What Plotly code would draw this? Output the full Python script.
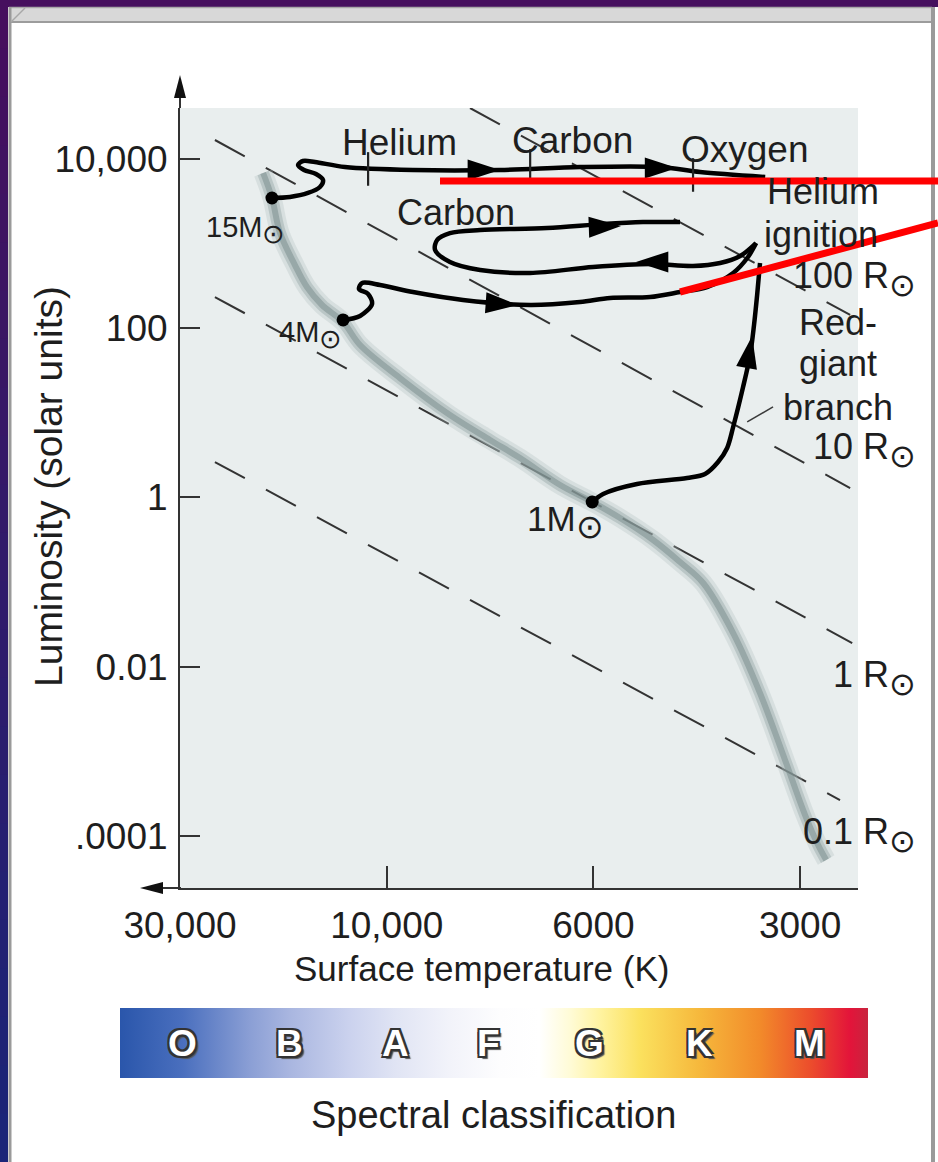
import plotly.graph_objects as go

W, H = 938, 1162
FONT = "Liberation Sans, Arial, Helvetica, sans-serif"
INK = "#1e1e1e"

# ---------------- data ----------------
# x values are positions along the (non-uniform) temperature axis, in tick units
temp_tick_pos = [0, 1, 2, 3]
temp_tick_labels = ["30,000", "10,000", "6000", "3000"]
lum_tick_vals = [1e4, 1e2, 1, 1e-2, 1e-4]
lum_tick_labels = ["10,000", "100", "1", "0.01", ".0001"]

# main sequence band (log10 luminosity)
ms_x = [0.402, 0.445, 0.484, 0.556, 0.614, 0.687, 0.789, 0.871, 1.064, 1.306, 1.500, 1.645,
        1.839, 1.994, 2.129, 2.289, 2.419, 2.531, 2.676, 2.806, 2.927, 3.024, 3.087, 3.126]
ms_logL = [3.832, 3.537, 3.123, 2.745, 2.485, 2.273, 2.072, 1.800, 1.410, 0.973, 0.678, 0.465,
           0.146, -0.054, -0.243, -0.503, -0.763, -1.011, -1.602, -2.311, -3.102, -3.752, -4.106, -4.283]

# 15 solar-mass track
trk15_x = [0.445, 0.532, 0.619, 0.677, 0.692, 0.658, 0.600, 0.571, 0.595, 0.653, 0.798, 1.127,
           1.548, 1.935, 2.323, 2.516, 2.831]
trk15_logL = [3.537, 3.549, 3.596, 3.667, 3.749, 3.820, 3.868, 3.927, 3.974, 3.962, 3.903, 3.868,
              3.868, 3.903, 3.903, 3.844, 3.785]

# 4 solar-mass track: rise to helium ignition, then blue loop
trk4a_x = [0.789, 0.871, 0.929, 0.910, 0.866, 0.881, 0.968, 1.127, 1.369, 1.694, 1.935, 2.081,
           2.274, 2.419, 2.550, 2.676, 2.748, 2.787]
trk4a_logL = [2.096, 2.143, 2.285, 2.403, 2.462, 2.533, 2.509, 2.426, 2.332, 2.273, 2.308, 2.356,
              2.367, 2.426, 2.485, 2.651, 2.840, 3.005]
trk4b_x = [2.787, 2.710, 2.613, 2.482, 2.274, 1.998, 1.694, 1.452, 1.306, 1.234, 1.244, 1.306,
           1.452, 1.776, 2.047, 2.240, 2.419]
trk4b_logL = [3.005, 2.852, 2.769, 2.734, 2.757, 2.722, 2.651, 2.686, 2.781, 2.923, 3.041, 3.123,
              3.159, 3.182, 3.230, 3.253, 3.253]

# 1 solar-mass track (red-giant branch)
trk1_x = [1.994, 2.047, 2.211, 2.453, 2.540, 2.603, 2.647, 2.676, 2.724, 2.758, 2.777, 2.792, 2.806]
trk1_logL = [-0.054, 0.040, 0.158, 0.229, 0.276, 0.418, 0.584, 0.832, 1.304, 1.682, 2.037, 2.391, 2.769]

# starting stars
star_labels = ["15M", "4M", "1M"]
star_x = [0.445, 0.789, 1.994]
star_logL = [3.537, 2.096, -0.054]
star_label_x = [0.315, 0.629, 1.863]
star_label_logL = [3.159, 1.918, -0.291]
star_label_size = [29, 29, 35]

# burning stages on the 15M track
stage_labels = ["Helium", "Carbon", "Oxygen"]
stage_x = [0.910, 1.694, 2.482]
stage_logL = [3.880, 3.915, 3.809]
stage_label_x = [1.064, 1.897, 2.734]
stage_label_logL = [4.187, 4.222, 4.104]

# direction arrows (tip positions, heading in degrees clockwise from up)
arrow_x = [1.548, 2.405, 1.635, 2.206, 2.134, 2.768]
arrow_logL = [3.868, 3.891, 2.273, 2.781, 3.206, 1.907]
arrow_heading = [90, 90, 94, -90, 88, 10]

# lines of constant radius
radius_labels = ["100 R", "10 R", "1 R", "0.1 R"]
radius_x0 = [1.403, 0.169, 0.169, 0.169]
radius_logL0 = [4.600, 4.222, 2.367, 0.418]
radius_x1 = [3.242, 3.242, 3.252, 3.193]
radius_logL1 = [2.155, 0.111, -1.720, -3.575]
radius_label_logL = [2.585, 0.560, -2.135, -3.990]

# other annotations (one entry per text line)
note_texts = ["Carbon", "Helium", "ignition", "Red-", "giant", "branch"]
note_x = [1.335, 3.111, 3.102, 3.184, 3.184, 3.184]
note_logL = [3.360, 3.608, 3.100, 2.072, 1.576, 1.068]
rgb_leader_x = [2.744, 2.869]
rgb_leader_logL = [0.892, 1.069]

# spectral classification bar
spec_classes = ["O", "B", "A", "F", "G", "K", "M"]
spec_pos = [0.084, 0.227, 0.368, 0.492, 0.628, 0.775, 0.922]
spec_grad_pos = [0, 0.084, 0.174, 0.227, 0.307, 0.368, 0.441, 0.508, 0.561, 0.602, 0.642,
                 0.695, 0.775, 0.856, 0.922, 0.976, 1.0]
spec_grad_col = ["#2a56ab", "#4a6fbe", "#8b9fd5", "#a9b6e0", "#cbd2ee", "#e0e4f4", "#f2f3fa",
                 "#fdfdfe", "#ffffff", "#fffbd6", "#fff3a0", "#fbe15e", "#f6b83c", "#f28a2a",
                 "#ec4e2c", "#e3143a", "#c8243e"]


def lum(v):
    return [10 ** a for a in v]


def px(x):
    return x / W


def py(y):
    return 1 - y / H


def sun(size):
    return "<sub><span style='font-size:%dpx'>⊙</span></sub>" % size


fig = go.Figure()

# constant-radius dashed lines
for i in range(len(radius_labels)):
    fig.add_trace(go.Scatter(
        x=[radius_x0[i], radius_x1[i]], y=lum([radius_logL0[i], radius_logL1[i]]),
        mode="lines", line=dict(color="#333333", width=2, dash="34px,24px"),
        hoverinfo="skip"))

# main sequence: soft grey band
for w, c in [(19, "rgba(175,190,190,0.30)"), (12, "rgba(150,168,168,0.45)"), (6, "rgba(118,138,138,0.50)")]:
    fig.add_trace(go.Scatter(x=ms_x, y=lum(ms_logL), mode="lines",
                             line=dict(color=c, width=w, shape="spline", smoothing=1.0),
                             hoverinfo="skip"))

# evolutionary tracks
for tx, tl in [(trk15_x, trk15_logL), (trk4a_x, trk4a_logL), (trk4b_x, trk4b_logL), (trk1_x, trk1_logL)]:
    fig.add_trace(go.Scatter(x=tx, y=lum(tl), mode="lines",
                             line=dict(color="black", width=4.5, shape="spline", smoothing=0.9),
                             hoverinfo="skip"))

fig.add_trace(go.Scatter(x=rgb_leader_x, y=lum(rgb_leader_logL), mode="lines",
                         line=dict(color="#3a3a3a", width=1.6), hoverinfo="skip"))

# burning-stage ticks
fig.add_trace(go.Scatter(x=stage_x, y=lum(stage_logL), mode="markers",
                         marker=dict(symbol="line-ns", size=24, line=dict(color="#222", width=2.2)),
                         hoverinfo="skip"))

# arrows
fig.add_trace(go.Scatter(x=arrow_x, y=lum(arrow_logL), mode="markers",
                         marker=dict(symbol="arrow", size=34, angle=arrow_heading, color="black",
                                     line=dict(width=0)),
                         hoverinfo="skip"))

# star starting points
fig.add_trace(go.Scatter(x=star_x, y=lum(star_logL), mode="markers",
                         marker=dict(symbol="circle", size=13, color="black"), hoverinfo="skip"))

# spectral bar
fig.add_trace(go.Scatter(x=[0, 1, 1, 0, 0], y=[0, 0, 1, 1, 0], xaxis="x2", yaxis="y2",
                         mode="lines", line=dict(width=0), fill="toself",
                         fillgradient=dict(type="horizontal",
                                           colorscale=[[p, c] for p, c in zip(spec_grad_pos, spec_grad_col)]),
                         hoverinfo="skip"))

ann = []
for t, x, l in zip(stage_labels, stage_label_x, stage_label_logL):
    ann.append(dict(x=x, y=l, xref="x", yref="y", text=t, showarrow=False,
                    xanchor="center", yanchor="middle",
                    font=dict(size=37, color=INK, family=FONT)))
for t, x, l in zip(note_texts, note_x, note_logL):
    ann.append(dict(x=x, y=l, xref="x", yref="y", text=t, showarrow=False,
                    xanchor="center", yanchor="middle",
                    font=dict(size=36, color=INK, family=FONT)))
for t, x, l, s in zip(star_labels, star_label_x, star_label_logL, star_label_size):
    ann.append(dict(x=x, y=l, xref="x", yref="y", text=t + sun(int(s * 0.95)), showarrow=False,
                    xanchor="center", yanchor="middle",
                    font=dict(size=s, color=INK, family=FONT)))
for t, l in zip(radius_labels, radius_label_logL):
    ann.append(dict(x=1.0885, y=l, xref="x domain", yref="y", text=t + sun(32), showarrow=False,
                    xanchor="right", yanchor="middle", font=dict(size=36, color=INK, family=FONT)))
for t, x in zip(spec_classes, spec_pos):
    ann.append(dict(x=x, y=0.5, xref="x2", yref="y2", text="<b>" + t + "</b>", showarrow=False,
                    xanchor="center", yanchor="middle",
                    font=dict(size=37, color="white", family=FONT,
                              shadow="-2px -2px 0 #333, 2px -2px 0 #333, -2px 2px 0 #333, 2px 2px 0 #333, 3px 3px 1px #555")))

# axis titles
ann.append(dict(x=px(482), y=py(968), xref="paper", yref="paper", text="Surface temperature (K)",
                xanchor="center", yanchor="middle",
                showarrow=False, font=dict(size=35, color=INK, family=FONT)))
ann.append(dict(x=px(48), y=py(487), xref="paper", yref="paper", text="Luminosity (solar units)",
                xanchor="center", yanchor="middle",
                textangle=-90, showarrow=False, font=dict(size=39, color=INK, family=FONT)))
ann.append(dict(x=px(494), y=py(1115), xref="paper", yref="paper", text="Spectral classification",
                xanchor="center", yanchor="middle",
                showarrow=False, font=dict(size=38, color=INK, family=FONT)))

shapes = []
# slide frame
shapes.append(dict(type="rect", xref="paper", yref="paper", x0=0, x1=1, y0=py(0), y1=py(7),
                   fillcolor="#46105e", line=dict(width=0), layer="below"))
n = 24
c0 = (0x46, 0x10, 0x5e)
c1 = (0x1b, 0x25, 0x78)
for k in range(n):
    f = k / (n - 1)
    col = "rgb(%d,%d,%d)" % tuple(int(a + (b - a) * f) for a, b in zip(c0, c1))
    shapes.append(dict(type="rect", xref="paper", yref="paper", x0=0, x1=px(8),
                       y0=py(H * k / n), y1=py(H * (k + 1) / n + 1),
                       fillcolor=col, line=dict(width=0), layer="below"))
shapes.append(dict(type="rect", xref="paper", yref="paper", x0=px(9), x1=px(932), y0=py(7), y1=py(22),
                   fillcolor="#d8d8d8", line=dict(width=0), layer="below"))
shapes.append(dict(type="line", xref="paper", yref="paper", x0=px(9), x1=px(932), y0=py(22), y1=py(22),
                   line=dict(color="#9c9c9c", width=2), layer="below"))
shapes.append(dict(type="line", xref="paper", yref="paper", x0=px(9), x1=px(932), y0=py(7.5), y1=py(7.5),
                   line=dict(color="#a8a8a8", width=1.5), layer="below"))
shapes.append(dict(type="line", xref="paper", yref="paper", x0=px(10), x1=px(10), y0=py(7), y1=py(H),
                   line=dict(color="#9a9a9a", width=3), layer="below"))
shapes.append(dict(type="line", xref="paper", yref="paper", x0=px(933), x1=px(933), y0=py(7), y1=py(H),
                   line=dict(color="#9a9a9a", width=4), layer="below"))
shapes.append(dict(type="line", xref="paper", yref="paper", x0=px(11), x1=px(25), y0=py(22), y1=py(8),
                   line=dict(color="#a8a8a8", width=1.5), layer="below"))

# axis extensions with arrowheads
shapes.append(dict(type="line", xref="paper", yref="paper", x0=px(180), x1=px(180), y0=py(108), y1=py(95),
                   line=dict(color="#333", width=2)))
shapes.append(dict(type="path", xref="paper", yref="paper",
                   path="M %f,%f L %f,%f L %f,%f Z" % (px(180), py(75), px(174), py(98), px(186), py(98)),
                   fillcolor="#111", line=dict(width=0)))
shapes.append(dict(type="line", xref="paper", yref="paper", x0=px(181), x1=px(158), y0=py(888), y1=py(888),
                   line=dict(color="#333", width=2)))
shapes.append(dict(type="path", xref="paper", yref="paper",
                   path="M %f,%f L %f,%f L %f,%f Z" % (px(140), py(888), px(163), py(882), px(163), py(894)),
                   fillcolor="#111", line=dict(width=0)))

# red pointer lines (slide overlay)
shapes.append(dict(type="line", xref="paper", yref="paper", x0=px(440), x1=px(938), y0=py(181), y1=py(181),
                   line=dict(color="#ff0000", width=7)))
shapes.append(dict(type="line", xref="paper", yref="paper", x0=px(680), x1=px(938), y0=py(292), y1=py(223),
                   line=dict(color="#ff0000", width=7)))

tickfont = dict(size=37, color=INK, family=FONT)
fig.update_layout(
    width=W, height=H, autosize=False,
    margin=dict(l=0, r=0, t=0, b=0, pad=0, autoexpand=False),
    paper_bgcolor="white", plot_bgcolor="#e9eeee",
    showlegend=False,
    xaxis=dict(domain=[px(180), px(858)], range=[0, 3.28], anchor="y", automargin=False,
               tickmode="array", tickvals=temp_tick_pos, ticktext=temp_tick_labels,
               ticks="inside", ticklen=22, tickwidth=2, tickcolor="#333",
               showline=True, linecolor="#333", linewidth=2,
               showgrid=False, zeroline=False, tickfont=tickfont, ticklabelstandoff=4),
    yaxis=dict(domain=[py(888), py(108)], type="log", range=[-4.614, 4.600], anchor="x", automargin=False,
               tickmode="array", tickvals=lum_tick_vals, ticktext=lum_tick_labels,
               ticks="inside", ticklen=20, tickwidth=2, tickcolor="#333",
               showline=True, linecolor="#333", linewidth=2,
               showgrid=False, zeroline=False, tickfont=tickfont, ticklabelstandoff=3),
    xaxis2=dict(domain=[px(120), px(868)], range=[0, 1], visible=False, anchor="y2", automargin=False),
    yaxis2=dict(domain=[py(1078), py(1008)], range=[0, 1], visible=False, anchor="x2", automargin=False),
    annotations=ann,
    shapes=shapes,
)

fig.write_html("out.html")
